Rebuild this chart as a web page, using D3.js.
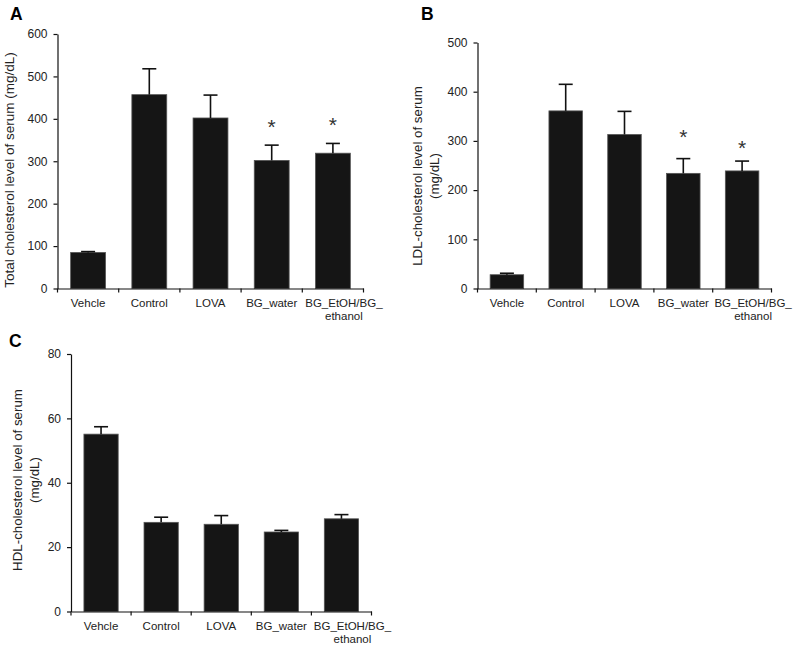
<!DOCTYPE html>
<html>
<head>
<meta charset="utf-8">
<script src="https://cdn.jsdelivr.net/npm/d3@7"></script>
<style>
  html, body { margin: 0; padding: 0; background: #fff; }
  svg { display: block; }
  text { font-family: "Liberation Sans", Arial, Helvetica, sans-serif; }
</style>
</head>
<body>
<svg id="chart" width="793" height="647"></svg>
<script>
// ---------- data ----------
const categories = ["Vehcle", "Control", "LOVA", "BG_water", "BG_EtOH/BG_ethanol"];
const categoryLines = [["Vehcle"], ["Control"], ["LOVA"], ["BG_water"], ["BG_EtOH/BG_", "ethanol"]];

const totalMean = [85, 457, 402, 302, 319];
const totalErr  = [2, 61, 54, 36, 23];
const totalSig  = ["", "", "", "*", "*"];
const totalSigAt = [null, null, null, 390, 396];
const totalTicks = [0, 100, 200, 300, 400, 500, 600];

const ldlMean = [28, 361, 313, 234, 239];
const ldlErr  = [3, 54, 47, 30, 20];
const ldlSig  = ["", "", "", "*", "*"];
const ldlSigAt = [null, null, null, 316, 294];
const ldlTicks = [0, 100, 200, 300, 400, 500];

const hdlMean = [55.1, 27.7, 27.1, 24.7, 28.8];
const hdlErr  = [2.3, 1.6, 2.7, 0.5, 1.3];
const hdlSig  = ["", "", "", "", ""];
const hdlSigAt = [null, null, null, null, null];
const hdlTicks = [0, 20, 40, 60, 80];

// ---------- layout ----------
const panels = [
  { letter: "A", lx: 10, ly: 20, left: 57.5, right: 363.5, top: 34, bottom: 288.5,
    ticks: totalTicks, mean: totalMean, err: totalErr, sig: totalSig, sigAt: totalSigAt,
    title: ["Total cholesterol level of serum (mg/dL)"], titleX: [9], titleY: 170, titleSize: 13.5 },
  { letter: "B", lx: 421, ly: 20, left: 477.5, right: 771.5, top: 42.5, bottom: 288.5,
    ticks: ldlTicks, mean: ldlMean, err: ldlErr, sig: ldlSig, sigAt: ldlSigAt,
    title: ["LDL-cholesterol level of serum", "(mg/dL)"], titleX: [417, 434], titleY: 176, titleSize: 13.3 },
  { letter: "C", lx: 9, ly: 347, left: 71, right: 371.5, top: 354, bottom: 611.5,
    ticks: hdlTicks, mean: hdlMean, err: hdlErr, sig: hdlSig, sigAt: hdlSigAt,
    title: ["HDL-cholesterol level of serum", "(mg/dL)"], titleX: [17.5, 34], titleY: 480, titleSize: 13.3 }
];

const svg = d3.select("#chart");

panels.forEach(p => {
  const g = svg.append("g");
  const x = d3.scaleBand().domain(categories).range([p.left, p.right]).paddingInner(0).paddingOuter(0);
  const y = d3.scaleLinear().domain([0, d3.max(p.ticks)]).range([p.bottom, p.top]);
  const barW = x.bandwidth() * 0.57;

  // panel letter
  g.append("text").attr("x", p.lx).attr("y", p.ly)
    .attr("font-size", 17.5).attr("font-weight", "bold").attr("fill", "#000").text(p.letter);

  // bars
  g.selectAll("rect.bar").data(categories).enter().append("rect")
    .attr("class", "bar")
    .attr("x", (d) => x(d) + x.bandwidth() / 2 - barW / 2)
    .attr("width", barW)
    .attr("y", (d, i) => y(p.mean[i]))
    .attr("height", (d, i) => y(0) - y(p.mean[i]))
    .attr("fill", "#151515").attr("stroke", "#555").attr("stroke-width", 0.8);

  // error bars (upper only)
  const eb = g.selectAll("g.err").data(categories).enter().append("g").attr("class", "err");
  eb.append("line")
    .attr("x1", d => x(d) + x.bandwidth() / 2).attr("x2", d => x(d) + x.bandwidth() / 2)
    .attr("y1", (d, i) => y(p.mean[i])).attr("y2", (d, i) => y(p.mean[i] + p.err[i]))
    .attr("stroke", "#111").attr("stroke-width", 1.6);
  eb.append("line")
    .attr("x1", d => x(d) + x.bandwidth() / 2 - 7).attr("x2", d => x(d) + x.bandwidth() / 2 + 7)
    .attr("y1", (d, i) => y(p.mean[i] + p.err[i])).attr("y2", (d, i) => y(p.mean[i] + p.err[i]))
    .attr("stroke", "#111").attr("stroke-width", 1.6);

  // significance marks
  g.selectAll("text.sig").data(categories).enter().append("text")
    .attr("class", "sig")
    .attr("x", d => x(d) + x.bandwidth() / 2)
    .attr("y", (d, i) => p.sigAt[i] == null ? 0 : y(p.sigAt[i]) + 11)
    .attr("text-anchor", "middle").attr("font-size", 21).attr("fill", "#333")
    .text((d, i) => p.sig[i]);

  // y axis
  const ya = g.append("g").attr("transform", `translate(${p.left},0)`)
    .call(d3.axisLeft(y).tickValues(p.ticks).tickSize(4).tickSizeOuter(0).tickPadding(6));
  ya.select(".domain").attr("stroke", "#111").attr("stroke-width", 1.2);
  ya.selectAll(".tick line").attr("stroke", "#111").attr("stroke-width", 1.2);
  ya.selectAll(".tick text").attr("font-size", 12).attr("fill", "#222")
    .attr("font-family", "Liberation Sans, Arial, sans-serif");

  // x axis: line with ticks at band boundaries
  const xa = g.append("g").attr("transform", `translate(0,${p.bottom})`)
    .call(d3.axisBottom(x).tickSize(0).tickSizeOuter(0).tickFormat(""));
  xa.select(".domain").attr("stroke", "#111").attr("stroke-width", 1.2);
  const bounds = categories.map(d => x(d)).concat([x(categories[categories.length - 1]) + x.bandwidth()]);
  g.selectAll("line.xt").data(bounds).enter().append("line")
    .attr("class", "xt")
    .attr("x1", d => d).attr("x2", d => d)
    .attr("y1", p.bottom).attr("y2", p.bottom + 4)
    .attr("stroke", "#111").attr("stroke-width", 1.2);

  // category labels
  const lab = g.selectAll("text.cat").data(categories).enter().append("text")
    .attr("class", "cat")
    .attr("text-anchor", "middle").attr("font-size", 11.5).attr("fill", "#222")
    .attr("x", (d, i) => x(d) + x.bandwidth() / 2 + (categoryLines[i].length > 1 ? 11 : 0))
    .attr("y", p.bottom + 18);
  lab.each(function(d, i) {
    const t = d3.select(this);
    categoryLines[i].forEach((s, k) => {
      t.append("tspan").attr("x", t.attr("x")).attr("dy", k === 0 ? 0 : 13.5).text(s);
    });
  });

  // y title
  p.title.forEach((s, k) => {
    g.append("text")
      .attr("transform", `translate(${p.titleX[k]},${p.titleY}) rotate(-90)`)
      .attr("text-anchor", "middle").attr("dy", "0.35em")
      .attr("font-size", p.titleSize).attr("fill", "#222").text(s);
  });
});
</script>
</body>
</html>
